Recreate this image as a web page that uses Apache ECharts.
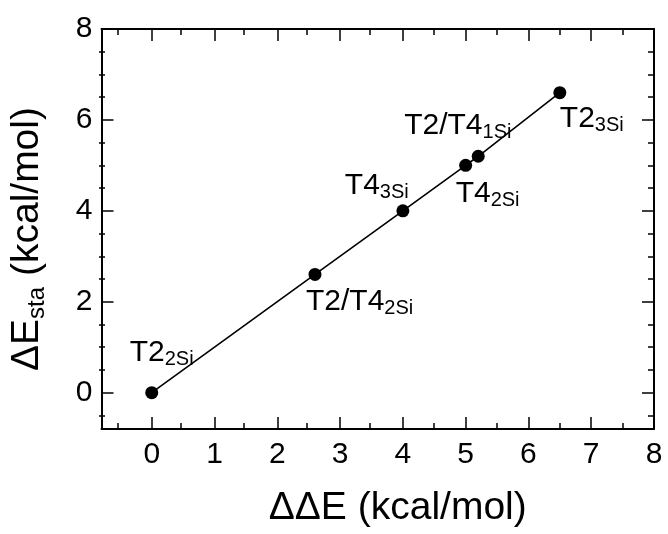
<!DOCTYPE html>
<html>
<head>
<meta charset="utf-8">
<script src="https://cdn.jsdelivr.net/npm/echarts@6/dist/echarts.min.js"></script>
<style>
  html, body { margin: 0; padding: 0; background: #fff; }
  #main { width: 668px; height: 534px; }
</style>
</head>
<body>
<div id="main"></div>
<script>
// data
var ddE = [0, 2.6, 4, 5, 5.2, 6.5];
var dEsta = [0, 2.6, 4, 5, 5.2, 6.6];
var siteNames = ['T2', 'T2/T4', 'T4', 'T4', 'T2/T4', 'T2'];
var siteSubs = ['2Si', '2Si', '3Si', '2Si', '1Si', '3Si'];
var xMajor = [0, 1, 2, 3, 4, 5, 6, 7, 8];
var xMinor = [-0.5, 0.5, 1.5, 2.5, 3.5, 4.5, 5.5, 6.5, 7.5];
var yMajor = [0, 2, 4, 6, 8];
var yMinor = [-0.5, 0.5, 1, 1.5, 2.5, 3, 3.5, 4.5, 5, 5.5, 6.5, 7, 7.5];

// label offsets (px from the dot centre)
var labelOffsets = [[-22, -40], [-9, 27], [-58, -25], [-10, 28], [-74, -31], [0, 26]];

var FONT = '"Liberation Sans", Arial, sans-serif';
var gridBox = { left: 99, right: 14, top: 29, bottom: 105 };
var symSize = 13;

var pts = ddE.map(function (x, i) {
  var off = labelOffsets[i];
  return {
    value: [x, dEsta[i]],
    label: {
      show: true,
      formatter: '{a|' + siteNames[i] + '}{s|' + siteSubs[i] + '}',
      position: [off[0] + symSize / 2, off[1] + symSize / 2],
      align: 'left',
      verticalAlign: 'middle'
    }
  };
});

function tickAxis(pos, vals, len, extra) {
  var isX = pos === 'bottom' || pos === 'top';
  var o = {
    type: 'value',
    position: pos,
    gridIndex: extra.grid,
    min: -0.8,
    max: 8,
    splitLine: { show: false },
    axisLine: { show: extra.line, onZero: false, lineStyle: { color: '#000', width: 2 } },
    axisTick: { show: true, inside: true, length: len, customValues: vals, lineStyle: { color: '#000', width: 1.5 } },
    axisLabel: { show: false }
  };
  if (extra.labels) {
    o.axisLabel = {
      show: true,
      customValues: extra.labels,
      color: '#000',
      fontFamily: FONT,
      fontSize: 30,
      margin: isX ? 11 : 9
    };
  }
  return o;
}

var xMain = tickAxis('bottom', xMajor, 12, { grid: 0, line: true, labels: xMajor });
xMain.name = 'ΔΔE (kcal/mol)';
xMain.nameLocation = 'middle';
xMain.nameGap = 60;
xMain.nameTextStyle = { color: '#000', fontFamily: FONT, fontSize: 39, padding: [0, 0, 0, 40] };

var yMain = tickAxis('left', yMajor, 12, { grid: 0, line: true, labels: yMajor });
yMain.name = '{a|ΔE}{s|sta}{a| (kcal/mol)}';
yMain.nameLocation = 'middle';
yMain.nameGap = 52;
yMain.nameTextStyle = {
  color: '#000',
  fontFamily: FONT,
  padding: [0, 20, 0, 0],
  rich: {
    a: { fontFamily: FONT, fontSize: 39, color: '#000', lineHeight: 44 },
    s: { fontFamily: FONT, fontSize: 24, color: '#000', lineHeight: 18, verticalAlign: 'bottom' }
  }
};

var option = {
  animation: false,
  backgroundColor: '#fff',
  grid: [
    Object.assign({ containLabel: false }, gridBox),
    Object.assign({ containLabel: false }, gridBox)
  ],
  xAxis: [
    xMain,
    tickAxis('top', xMajor, 12, { grid: 0, line: true }),
    tickAxis('bottom', xMinor, 6, { grid: 1, line: false }),
    tickAxis('top', xMinor, 6, { grid: 1, line: false })
  ],
  yAxis: [
    yMain,
    tickAxis('right', yMajor, 12, { grid: 0, line: true }),
    tickAxis('left', yMinor, 6, { grid: 1, line: false }),
    tickAxis('right', yMinor, 6, { grid: 1, line: false })
  ],
  series: [{
    type: 'line',
    xAxisIndex: 0,
    yAxisIndex: 0,
    data: pts,
    symbol: 'circle',
    symbolSize: symSize,
    itemStyle: { color: '#000' },
    lineStyle: { color: '#000', width: 1.6 },
    label: {
      color: '#000',
      fontFamily: FONT,
      rich: {
        a: { fontFamily: FONT, fontSize: 30, color: '#000', lineHeight: 34 },
        s: { fontFamily: FONT, fontSize: 20, color: '#000', lineHeight: 14, verticalAlign: 'bottom' }
      }
    },
    z: 3
  }]
};

var chart = echarts.init(document.getElementById('main'));
chart.setOption(option);
</script>
</body>
</html>
